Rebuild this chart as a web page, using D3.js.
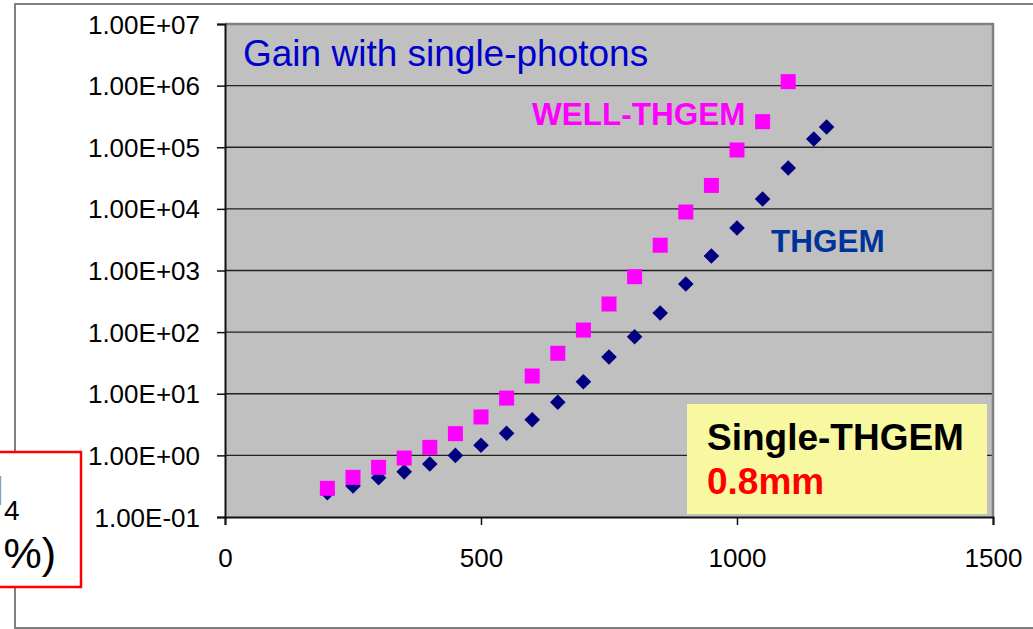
<!DOCTYPE html>
<html>
<head>
<meta charset="utf-8">
<script src="https://cdn.jsdelivr.net/npm/d3@7"></script>
<style>
  html, body { margin: 0; padding: 0; background: #ffffff; overflow: hidden; }
  svg { display: block; font-family: "Liberation Sans", Arial, sans-serif; }
</style>
</head>
<body>
<svg id="chart" width="1033" height="629"></svg>
<script>
// Gain vs. voltage for single photons (log scale)
const thgemVoltage = [200, 250, 300, 350, 400, 450, 500, 550, 600, 650, 700, 750, 800, 850, 900, 950, 1000, 1050, 1100, 1150, 1175];
const thgemGain = [0.248, 0.318, 0.434, 0.54, 0.724, 1.0, 1.46, 2.28, 3.79, 7.26, 15.7, 39.5, 84, 204, 604, 1720, 4900, 14500, 46000, 136000, 213000];

const wellVoltage = [200, 250, 300, 350, 400, 450, 500, 550, 600, 650, 700, 750, 800, 850, 900, 950, 1000, 1050, 1100];
const wellGain = [0.292, 0.44, 0.64, 0.905, 1.35, 2.25, 4.2, 8.5, 19.4, 45.3, 108, 286, 794, 2570, 8900, 24000, 90200, 260000, 1160000];

const xTicks = [0, 500, 1000, 1500];
const yTicks = [1e-1, 1e0, 1e1, 1e2, 1e3, 1e4, 1e5, 1e6, 1e7];
const yTickLabels = ["1.00E-01", "1.00E+00", "1.00E+01", "1.00E+02", "1.00E+03", "1.00E+04", "1.00E+05", "1.00E+06", "1.00E+07"];

const svg = d3.select("#chart");
const plot = { left: 225, right: 993, top: 24, bottom: 517 };

const x = d3.scaleLinear().domain([0, 1500]).range([plot.left, plot.right]);
const y = d3.scaleLog().domain([1e-1, 1e7]).range([plot.bottom, plot.top]);

// outer slide frame
svg.append("path")
  .attr("d", `M1040,4 H15 V628 H1040`)
  .attr("fill", "none").attr("stroke", "#808080").attr("stroke-width", 2);

// plot background
svg.append("rect")
  .attr("x", plot.left).attr("y", plot.top)
  .attr("width", plot.right - plot.left).attr("height", plot.bottom - plot.top)
  .attr("fill", "#c0c0c0");

// horizontal gridlines
svg.append("g").selectAll("line")
  .data(yTicks.slice(1, -1))
  .join("line")
  .attr("x1", plot.left).attr("x2", plot.right)
  .attr("y1", d => y(d)).attr("y2", d => y(d))
  .attr("stroke", "#222").attr("stroke-width", 1.3);

// top and right plot border
svg.append("path")
  .attr("d", `M${plot.left},${plot.top} H${plot.right} V${plot.bottom}`)
  .attr("fill", "none").attr("stroke", "#808080").attr("stroke-width", 2.5);

// axes
const yAxis = d3.axisLeft(y).tickValues(yTicks).tickSize(8)
  .tickFormat((d, i) => yTickLabels[i]).tickPadding(17);
const gy = svg.append("g").attr("transform", `translate(${plot.left},0)`).call(yAxis);
gy.select(".domain").attr("stroke", "#111").attr("stroke-width", 2);
gy.selectAll(".tick line").attr("stroke", "#111").attr("stroke-width", 1.5);
gy.selectAll(".tick text")
  .attr("font-size", 26).attr("fill", "#000")
  .attr("font-family", "Liberation Sans, Arial, sans-serif")
  .attr("dy", 9);

const xAxis = d3.axisBottom(x).tickValues(xTicks).tickSize(8).tickFormat(d3.format("d")).tickPadding(24);
const gx = svg.append("g").attr("transform", `translate(0,${plot.bottom})`).call(xAxis);
gx.select(".domain").attr("stroke", "#111").attr("stroke-width", 2);
gx.selectAll(".tick line").attr("stroke", "#111").attr("stroke-width", 1.5);
gx.selectAll(".tick text")
  .attr("font-size", 26).attr("fill", "#000")
  .attr("font-family", "Liberation Sans, Arial, sans-serif")
  .attr("dy", 18);

// THGEM series: navy diamonds
const diamond = "M0,-7.8 L7.8,0 L0,7.8 L-7.8,0 Z";
svg.append("g").selectAll("path")
  .data(thgemVoltage.map((v, i) => [v, thgemGain[i]]))
  .join("path")
  .attr("d", diamond)
  .attr("transform", d => `translate(${x(d[0])},${y(d[1])})`)
  .attr("fill", "#000080");

// WELL-THGEM series: magenta squares
const sq = 15;
svg.append("g").selectAll("rect")
  .data(wellVoltage.map((v, i) => [v, wellGain[i]]))
  .join("rect")
  .attr("x", d => x(d[0]) - sq / 2).attr("y", d => y(d[1]) - sq / 2)
  .attr("width", sq).attr("height", sq)
  .attr("fill", "#ff00ff");

// annotations
svg.append("text").attr("x", 243).attr("y", 66)
  .attr("font-size", 37).attr("fill", "#0000cc")
  .text("Gain with single-photons");

svg.append("text").attr("x", 532).attr("y", 125)
  .attr("font-size", 31.5).attr("font-weight", "bold").attr("fill", "#ff00ff")
  .text("WELL-THGEM");

svg.append("text").attr("x", 771).attr("y", 252)
  .attr("font-size", 31.5).attr("font-weight", "bold").attr("fill", "#003399")
  .text("THGEM");

// detector info box
svg.append("rect").attr("x", 687).attr("y", 404).attr("width", 300).attr("height", 110)
  .attr("fill", "#f8f8a0");
svg.append("text").attr("x", 707).attr("y", 450)
  .attr("font-size", 37).attr("font-weight", "bold").attr("fill", "#000")
  .text("Single-THGEM");
svg.append("text").attr("x", 707).attr("y", 494)
  .attr("font-size", 37).attr("font-weight", "bold").attr("fill", "#ff0000")
  .text("0.8mm");

// gas mixture box at the left edge
svg.append("rect").attr("x", -10).attr("y", 452).attr("width", 91).attr("height", 135)
  .attr("fill", "#ffffff").attr("stroke", "#ff0000").attr("stroke-width", 2.5);
svg.append("text").attr("x", 4.5).attr("y", 505)
  .attr("font-size", 43).attr("fill", "#9a9a9a").attr("text-anchor", "end")
  .text("CH");
svg.append("text").attr("x", 4).attr("y", 520)
  .attr("font-size", 28).attr("fill", "#000").text("4");
svg.append("text").attr("x", 56).attr("y", 568)
  .attr("font-size", 43).attr("fill", "#000").attr("text-anchor", "end")
  .text("%)");
</script>
</body>
</html>
